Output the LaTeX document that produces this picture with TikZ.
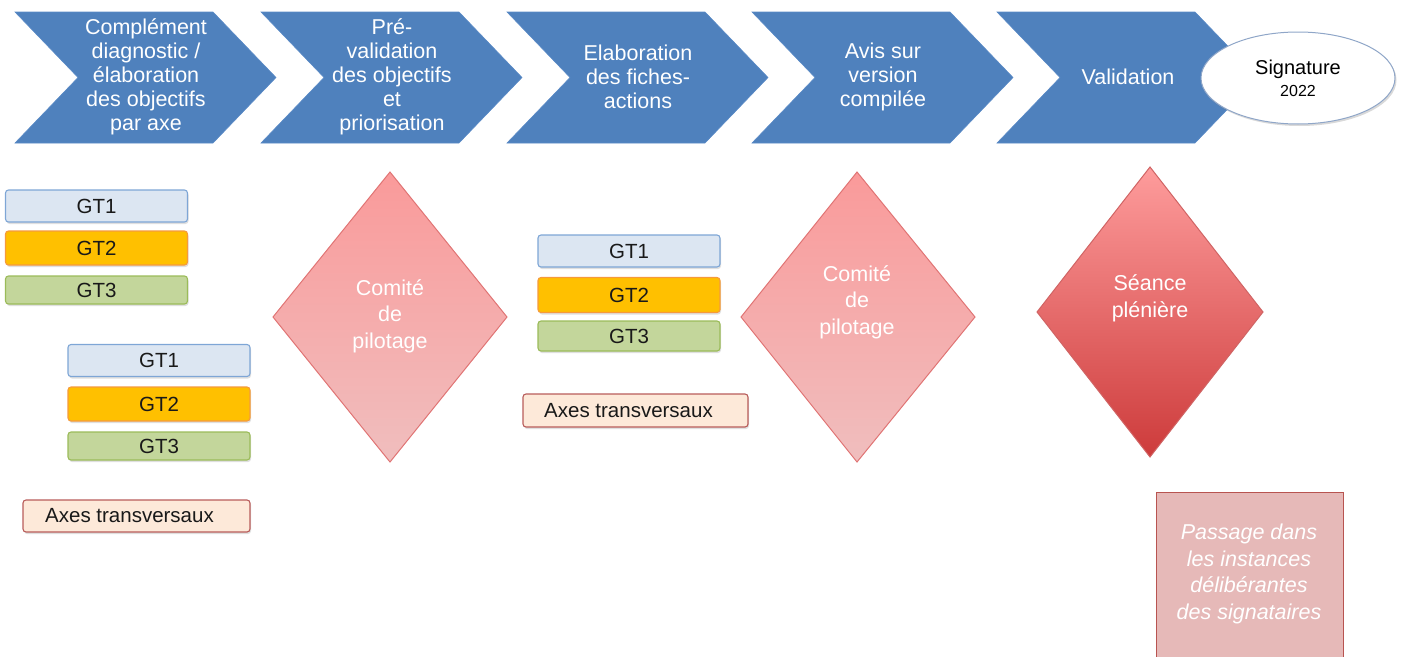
\documentclass[tikz,border=0pt]{standalone}
\usepackage{fontspec}
\setmainfont{Liberation Sans}
\usetikzlibrary{shapes.geometric,shadows}
\definecolor{chevfill}{HTML}{4F81BD}
\definecolor{chevline}{HTML}{5A8AC6}
\definecolor{gtaf}{HTML}{DCE6F2}\definecolor{gtal}{HTML}{7EA6D6}
\definecolor{gtbf}{HTML}{FFC000}\definecolor{gtbl}{HTML}{F59A3C}
\definecolor{gtcf}{HTML}{C3D69B}\definecolor{gtcl}{HTML}{9BBB59}
\definecolor{axf}{HTML}{FDE9D9}\definecolor{axl}{HTML}{B85C5A}
\definecolor{dtop}{HTML}{FA9A9A}\definecolor{dbot}{HTML}{F0BEBE}\definecolor{dline}{HTML}{E07474}
\definecolor{stop}{HTML}{FE9C9C}\definecolor{sbot}{HTML}{CD3B3B}\definecolor{sline}{HTML}{D06464}
\definecolor{pf}{HTML}{E6B9B8}\definecolor{pl}{HTML}{B85450}
\definecolor{ell}{HTML}{8FA6C8}
\tikzset{
  chevtext/.style={text=white,align=center,inner sep=0pt,font=\fontsize{21.5}{24}\selectfont},
  gtbox/.style={draw,rounded corners=3pt,line width=1.1pt,minimum width=182pt,inner sep=0pt,
     font=\fontsize{20.5}{22}\selectfont,text=black!90,
     drop shadow={shadow xshift=1pt,shadow yshift=-2pt,opacity=0.25}},
  gta/.style={gtbox,fill=gtaf,draw=gtal,minimum height=32pt},
  gtb/.style={gtbox,fill=gtbf,draw=gtbl,minimum height=34pt},
  gtc/.style={gtbox,fill=gtcf,draw=gtcl,minimum height=28pt},
  axbox/.style={gtbox,fill=axf,draw=axl,minimum height=32pt},
  dtext/.style={text=white,align=center,inner sep=0pt,font=\fontsize{21.5}{26.5}\selectfont},
}
\begin{document}
\begin{tikzpicture}[x=1pt,y=-1pt]
\useasboundingbox (0,0) rectangle (1403,656);
% chevrons
\foreach \x/\n/\txt in {15/c1/{Complément\\diagnostic /\\élaboration\\des objectifs\\par axe},
  261/c2/{Pré-\\validation\\des objectifs\\et\\priorisation},
  507/c3/{Elaboration\\des fiches-\\actions},
  752/c4/{Avis sur\\version\\compilée},
  997/c5/{Validation}}{
  \filldraw[fill=chevfill,draw=chevline,line width=0.6pt] (\x,12) -- ++(198,0) -- ++(63,65.5) -- ++(-63,65.5) -- ++(-198,0) -- ++(63,-65.5) -- cycle;
  \node[chevtext] (\n) at (\x+131,76.5) {\txt};
}
% signature ellipse
\node[ellipse,draw=ell,line width=1pt,fill=white,minimum width=194pt,minimum height=92pt,inner sep=0pt,align=center,
  drop shadow={shadow xshift=1.5pt,shadow yshift=-2pt,opacity=0.3}] (sig) at (1298,78)
  {{\fontsize{20}{24}\selectfont Signature}\\[6pt]{\fontsize{16}{20}\selectfont 2022}};
% GT group 1
\node[gta] (g1a) at (96.5,206) {GT1};
\node[gtb] (g1b) at (96.5,248) {GT2};
\node[gtc] (g1c) at (96.5,290) {GT3};
% GT group 2
\node[gta] (g2a) at (159,360.5) {GT1};
\node[gtb] (g2b) at (159,404) {GT2};
\node[gtc] (g2c) at (159,446) {GT3};
\node[axbox,minimum width=227pt] (ax1) at (136.5,516) {\hspace*{-14pt}Axes transversaux};
% GT group 3
\node[gta] (g3a) at (629,251) {GT1};
\node[gtb,minimum height=35pt] (g3b) at (629,295) {GT2};
\node[gtc,minimum height=30pt] (g3c) at (629,336) {GT3};
\node[axbox,minimum width=225pt,minimum height=33pt] (ax2) at (635.5,410.5) {\hspace*{-14pt}Axes transversaux};
% diamonds
\shadedraw[top color=dtop,bottom color=dbot,draw=dline,line width=1pt] (390,172) -- (507,317) -- (390,462) -- (273,317) -- cycle;
\node[dtext] (d1) at (390,316) {Comité\\de\\pilotage};
\shadedraw[top color=dtop,bottom color=dbot,draw=dline,line width=1pt] (857,172) -- (975,317) -- (857,462) -- (741,317) -- cycle;
\node[dtext] (d2) at (857,302) {Comité\\de\\pilotage};
\shadedraw[top color=stop,bottom color=sbot,draw=sline,line width=1pt] (1150,167) -- (1263,312) -- (1150,457) -- (1037,312) -- cycle;
\node[dtext] (d3) at (1150,298.5) {Séance\\plénière};
% passage box
\filldraw[fill=pf,draw=pl,line width=1pt] (1156,492) rectangle (1343,662);
\node[dtext,font=\fontsize{21.5}{26.5}\selectfont\itshape] (pass) at (1249,574) {Passage dans\\les instances\\délibérantes\\des signataires};
\end{tikzpicture}
\end{document}
